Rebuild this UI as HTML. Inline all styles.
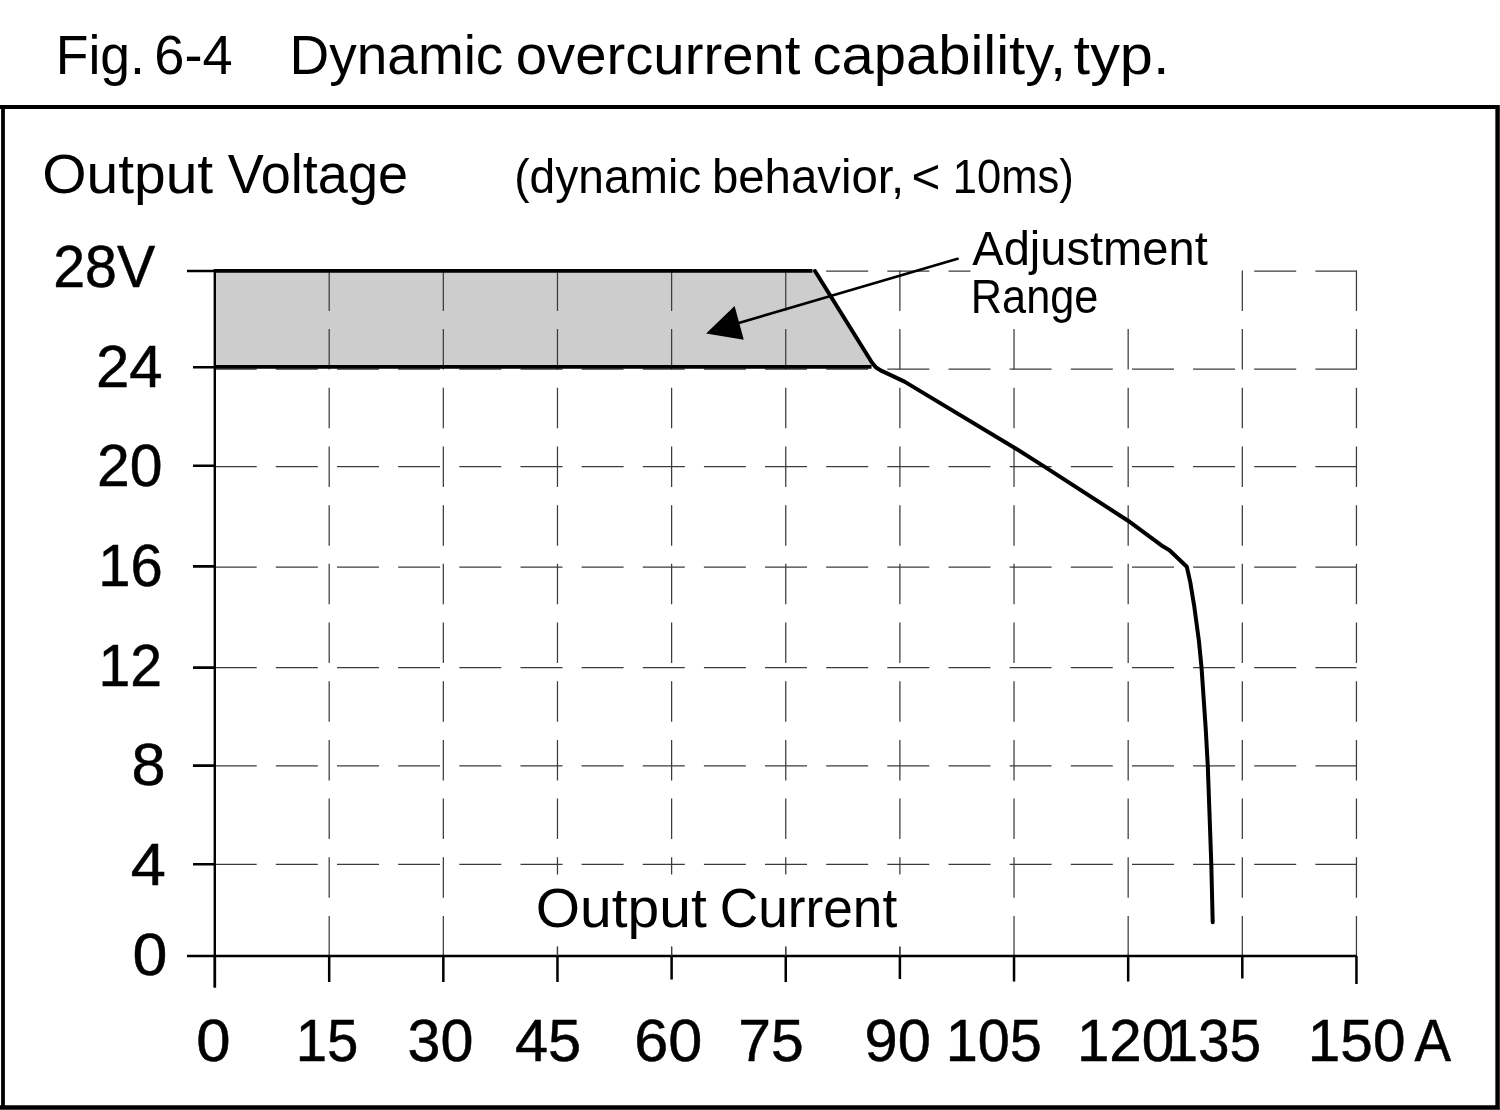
<!DOCTYPE html>
<html><head><meta charset="utf-8"><style>
html,body{margin:0;padding:0;background:#fff;width:1500px;height:1110px;overflow:hidden}
svg{display:block}
text{font-family:"Liberation Sans",sans-serif;fill:#000}
.d{stroke:#000;stroke-width:0.5px}
</style></head><body>
<svg width="1500" height="1110" viewBox="0 0 1500 1110">
<rect width="1500" height="1110" fill="#fff"/>
<path d="M214.7 271.0H256.7M275.8 271.0H317.8M337.0 271.0H379.0M398.1 271.0H440.1M459.3 271.0H501.3M520.5 271.0H562.5M581.6 271.0H623.6M642.8 271.0H684.8M703.9 271.0H745.9M765.0 271.0H807.0M826.2 271.0H868.2M887.3 271.0H929.3M948.5 271.0H990.5M1009.6 271.0H1051.6M1070.8 271.0H1112.8M1132.0 271.0H1174.0M1193.1 271.0H1235.1M1254.2 271.0H1296.2M1315.4 271.0H1356.5M214.7 369.1H256.7M275.8 369.1H317.8M337.0 369.1H379.0M398.1 369.1H440.1M459.3 369.1H501.3M520.5 369.1H562.5M581.6 369.1H623.6M642.8 369.1H684.8M703.9 369.1H745.9M765.0 369.1H807.0M826.2 369.1H868.2M887.3 369.1H929.3M948.5 369.1H990.5M1009.6 369.1H1051.6M1070.8 369.1H1112.8M1132.0 369.1H1174.0M1193.1 369.1H1235.1M1254.2 369.1H1296.2M1315.4 369.1H1356.5M214.7 466.5H256.7M275.8 466.5H317.8M337.0 466.5H379.0M398.1 466.5H440.1M459.3 466.5H501.3M520.5 466.5H562.5M581.6 466.5H623.6M642.8 466.5H684.8M703.9 466.5H745.9M765.0 466.5H807.0M826.2 466.5H868.2M887.3 466.5H929.3M948.5 466.5H990.5M1009.6 466.5H1051.6M1070.8 466.5H1112.8M1132.0 466.5H1174.0M1193.1 466.5H1235.1M1254.2 466.5H1296.2M1315.4 466.5H1356.5M214.7 567.0H256.7M275.8 567.0H317.8M337.0 567.0H379.0M398.1 567.0H440.1M459.3 567.0H501.3M520.5 567.0H562.5M581.6 567.0H623.6M642.8 567.0H684.8M703.9 567.0H745.9M765.0 567.0H807.0M826.2 567.0H868.2M887.3 567.0H929.3M948.5 567.0H990.5M1009.6 567.0H1051.6M1070.8 567.0H1112.8M1132.0 567.0H1174.0M1193.1 567.0H1235.1M1254.2 567.0H1296.2M1315.4 567.0H1356.5M214.7 667.7H256.7M275.8 667.7H317.8M337.0 667.7H379.0M398.1 667.7H440.1M459.3 667.7H501.3M520.5 667.7H562.5M581.6 667.7H623.6M642.8 667.7H684.8M703.9 667.7H745.9M765.0 667.7H807.0M826.2 667.7H868.2M887.3 667.7H929.3M948.5 667.7H990.5M1009.6 667.7H1051.6M1070.8 667.7H1112.8M1132.0 667.7H1174.0M1193.1 667.7H1235.1M1254.2 667.7H1296.2M1315.4 667.7H1356.5M214.7 765.8H256.7M275.8 765.8H317.8M337.0 765.8H379.0M398.1 765.8H440.1M459.3 765.8H501.3M520.5 765.8H562.5M581.6 765.8H623.6M642.8 765.8H684.8M703.9 765.8H745.9M765.0 765.8H807.0M826.2 765.8H868.2M887.3 765.8H929.3M948.5 765.8H990.5M1009.6 765.8H1051.6M1070.8 765.8H1112.8M1132.0 765.8H1174.0M1193.1 765.8H1235.1M1254.2 765.8H1296.2M1315.4 765.8H1356.5M214.7 864.3H256.7M275.8 864.3H317.8M337.0 864.3H379.0M398.1 864.3H440.1M459.3 864.3H501.3M520.5 864.3H562.5M581.6 864.3H623.6M642.8 864.3H684.8M703.9 864.3H745.9M765.0 864.3H807.0M826.2 864.3H868.2M887.3 864.3H929.3M948.5 864.3H990.5M1009.6 864.3H1051.6M1070.8 864.3H1112.8M1132.0 864.3H1174.0M1193.1 864.3H1235.1M1254.2 864.3H1296.2M1315.4 864.3H1356.5" stroke="#3c3c3c" stroke-width="1.25" fill="none"/>
<path d="M329.19 270.4V310.9M329.19 329.1V369.6M329.19 387.8V428.3M329.19 446.5V487.0M329.19 505.2V545.7M329.19 563.8V604.3M329.19 622.5V663.0M329.19 681.2V721.7M329.19 739.9V780.4M329.19 798.6V839.1M329.19 857.3V897.8M329.19 916.0V956.0M443.33 270.4V310.9M443.33 329.1V369.6M443.33 387.8V428.3M443.33 446.5V487.0M443.33 505.2V545.7M443.33 563.8V604.3M443.33 622.5V663.0M443.33 681.2V721.7M443.33 739.9V780.4M443.33 798.6V839.1M443.33 857.3V897.8M443.33 916.0V956.0M557.47 270.4V310.9M557.47 329.1V369.6M557.47 387.8V428.3M557.47 446.5V487.0M557.47 505.2V545.7M557.47 563.8V604.3M557.47 622.5V663.0M557.47 681.2V721.7M557.47 739.9V780.4M557.47 798.6V839.1M557.47 857.3V897.8M557.47 916.0V956.0M671.61 270.4V310.9M671.61 329.1V369.6M671.61 387.8V428.3M671.61 446.5V487.0M671.61 505.2V545.7M671.61 563.8V604.3M671.61 622.5V663.0M671.61 681.2V721.7M671.61 739.9V780.4M671.61 798.6V839.1M671.61 857.3V897.8M671.61 916.0V956.0M785.75 270.4V310.9M785.75 329.1V369.6M785.75 387.8V428.3M785.75 446.5V487.0M785.75 505.2V545.7M785.75 563.8V604.3M785.75 622.5V663.0M785.75 681.2V721.7M785.75 739.9V780.4M785.75 798.6V839.1M785.75 857.3V897.8M785.75 916.0V956.0M899.89 270.4V310.9M899.89 329.1V369.6M899.89 387.8V428.3M899.89 446.5V487.0M899.89 505.2V545.7M899.89 563.8V604.3M899.89 622.5V663.0M899.89 681.2V721.7M899.89 739.9V780.4M899.89 798.6V839.1M899.89 857.3V897.8M899.89 916.0V956.0M1014.03 270.4V310.9M1014.03 329.1V369.6M1014.03 387.8V428.3M1014.03 446.5V487.0M1014.03 505.2V545.7M1014.03 563.8V604.3M1014.03 622.5V663.0M1014.03 681.2V721.7M1014.03 739.9V780.4M1014.03 798.6V839.1M1014.03 857.3V897.8M1014.03 916.0V956.0M1128.17 270.4V310.9M1128.17 329.1V369.6M1128.17 387.8V428.3M1128.17 446.5V487.0M1128.17 505.2V545.7M1128.17 563.8V604.3M1128.17 622.5V663.0M1128.17 681.2V721.7M1128.17 739.9V780.4M1128.17 798.6V839.1M1128.17 857.3V897.8M1128.17 916.0V956.0M1242.31 270.4V310.9M1242.31 329.1V369.6M1242.31 387.8V428.3M1242.31 446.5V487.0M1242.31 505.2V545.7M1242.31 563.8V604.3M1242.31 622.5V663.0M1242.31 681.2V721.7M1242.31 739.9V780.4M1242.31 798.6V839.1M1242.31 857.3V897.8M1242.31 916.0V956.0M1356.45 270.4V310.9M1356.45 329.1V369.6M1356.45 387.8V428.3M1356.45 446.5V487.0M1356.45 505.2V545.7M1356.45 563.8V604.3M1356.45 622.5V663.0M1356.45 681.2V721.7M1356.45 739.9V780.4M1356.45 798.6V839.1M1356.45 857.3V897.8M1356.45 916.0V956.0" stroke="#3c3c3c" stroke-width="1.25" fill="none"/>
<rect x="970.5" y="226" width="268" height="98" fill="#fff"/>
<rect x="515" y="874.5" width="395" height="72" fill="#fff"/>
<polygon points="214.8,271 815,271 875,367 214.8,367" fill="#cdcdcd"/>
<path d="M329.19 270.4V310.9M329.19 329.1V367.0M443.33 270.4V310.9M443.33 329.1V367.0M557.47 270.4V310.9M557.47 329.1V367.0M671.61 270.4V310.9M671.61 329.1V367.0M785.75 270.4V310.9M785.75 329.1V367.0" stroke="#3c3c3c" stroke-width="1.25" fill="none"/>
<path d="M214 270.8H812.5" stroke="#000" stroke-width="3.8" fill="none"/>
<path d="M214 366.8H871.5" stroke="#000" stroke-width="3.8" fill="none"/>
<polyline points="815,271 871.9,362.5 876,367.6 881.7,370.9 904.5,381.6 912.8,386.6 1013.6,447.2 1044,466.4 1128,520.7 1163.2,546.6 1169.5,550.2 1186.8,566.8 1190.3,582.4 1194.3,606.8 1198.9,640.8 1201.6,668.4 1205.7,728.4 1207.8,766.2 1211.3,864.3 1212.7,922.2" stroke="#000" stroke-width="4" fill="none" stroke-linejoin="round" stroke-linecap="round"/>
<path d="M957.6 258.8L739.6 322.7" stroke="#000" stroke-width="2.6" stroke-linecap="round" fill="none"/>
<polygon points="706.1,333.4 734.6,306.1 743.8,339.8" fill="#000"/>
<path d="M214.8 269V987.5" stroke="#000" stroke-width="2.4" fill="none"/>
<path d="M187 956H1356.6" stroke="#000" stroke-width="2.5" fill="none"/>
<path d="M187 271H215M193 367.2H215M193 465.8H215M193 566.4H215M193 667.6H215M193 765.6H215M193 864.2H215" stroke="#000" stroke-width="2.6" fill="none"/>
<path d="M214.90 956V987.5M329.19 956V981.9M443.33 956V981.9M557.47 956V981.9M671.61 956V979.5M785.75 956V981.9M899.89 956V979M1014.03 956V981.6M1128.17 956V981.6M1242.31 956V978.5M1356.45 956V984" stroke="#000" stroke-width="2.5" fill="none"/>
<path d="M557.47 946.7V956M671.61 946.7V956M785.75 946.7V956M899.89 946.7V956" stroke="#3c3c3c" stroke-width="1.25" fill="none"/>
<rect x="1499" y="105" width="1" height="1005" fill="#3c3c3c"/>
<rect x="0" y="1109" width="1500" height="1" fill="#3c3c3c"/>
<path d="M0 107H1499M3 105V1109M1497.25 105V1109M0 1107.1H1499" stroke="#000" stroke-width="3.8" fill="none"/>
<g style="will-change:transform">
<text transform="translate(55.72,73.80) scale(0.9505,1)" font-size="56.3">Fig.</text>
<text transform="translate(154.29,73.80) scale(0.9629,1)" font-size="56.3">6-4</text>
<text transform="translate(289.60,73.80) scale(0.9761,1)" font-size="56.3">Dynamic</text>
<text transform="translate(515.75,73.80) scale(0.9998,1)" font-size="56.3">overcurrent</text>
<text transform="translate(812.39,73.80) scale(1.0305,1)" font-size="56.3">capability,</text>
<text transform="translate(1073.61,73.80) scale(1.0563,1)" font-size="56.3">typ.</text>
<text transform="translate(42.14,193.30) scale(1.0176,1)" font-size="56.0">Output</text>
<text transform="translate(227.73,193.30) scale(0.9654,1)" font-size="56.0">Voltage</text>
<text transform="translate(514.23,193.30) scale(0.9766,1)" font-size="47.2">(dynamic</text>
<text transform="translate(711.92,193.30) scale(1.0037,1)" font-size="47.2">behavior,</text>
<text transform="translate(911.53,193.30) scale(1.0484,1)" font-size="47.2">&lt;</text>
<text transform="translate(952.73,193.30) scale(0.9229,1)" font-size="47.2">10ms)</text>
<text transform="translate(972.26,264.70) scale(0.9935,1)" font-size="47.4">Adjustment</text>
<text transform="translate(970.84,312.90) scale(0.9133,1)" font-size="47.4">Range</text>
<text transform="translate(535.74,927.40) scale(1.0267,1)" font-size="55.5">Output</text>
<text transform="translate(719.74,927.40) scale(0.9595,1)" font-size="55.5">Current</text>
<text class="d" transform="translate(53.24,287.20) scale(0.9578,1)" font-size="59.8">28V</text>
<text class="d" transform="translate(96.00,386.50) scale(1.0017,1)" font-size="59.8">24</text>
<text class="d" transform="translate(97.05,485.80) scale(0.9854,1)" font-size="59.8">20</text>
<text class="d" transform="translate(98.35,585.60) scale(0.9697,1)" font-size="59.8">16</text>
<text class="d" transform="translate(98.41,686.30) scale(0.9558,1)" font-size="59.8">12</text>
<text class="d" transform="translate(131.44,785.30) scale(1.0247,1)" font-size="59.8">8</text>
<text class="d" transform="translate(130.82,885.20) scale(1.0569,1)" font-size="59.8">4</text>
<text class="d" transform="translate(132.59,974.80) scale(1.0491,1)" font-size="59.8">0</text>
<text class="d" transform="translate(196.23,1060.50) scale(1.0315,1)" font-size="59.8">0</text>
<text class="d" transform="translate(295.78,1060.50) scale(0.9412,1)" font-size="59.8">15</text>
<text class="d" transform="translate(407.53,1060.50) scale(0.9904,1)" font-size="59.8">30</text>
<text class="d" transform="translate(515.01,1060.50) scale(0.9953,1)" font-size="59.8">45</text>
<text class="d" transform="translate(634.24,1060.50) scale(1.0229,1)" font-size="59.8">60</text>
<text class="d" transform="translate(738.36,1060.50) scale(0.9837,1)" font-size="59.8">75</text>
<text class="d" transform="translate(864.62,1060.50) scale(0.9969,1)" font-size="59.8">90</text>
<text class="d" transform="translate(945.68,1060.50) scale(0.9634,1)" font-size="59.8">105</text>
<text class="d" transform="translate(1076.93,1060.50) scale(0.9754,1)" font-size="59.8">120</text>
<text class="d" transform="translate(1166.44,1060.50) scale(0.9494,1)" font-size="59.8">135</text>
<text class="d" transform="translate(1307.81,1060.50) scale(0.9786,1)" font-size="59.8">150</text>
<text class="d" transform="translate(1414.53,1060.50) scale(0.9172,1)" font-size="59.8">A</text>
</g>
</svg>
</body></html>
